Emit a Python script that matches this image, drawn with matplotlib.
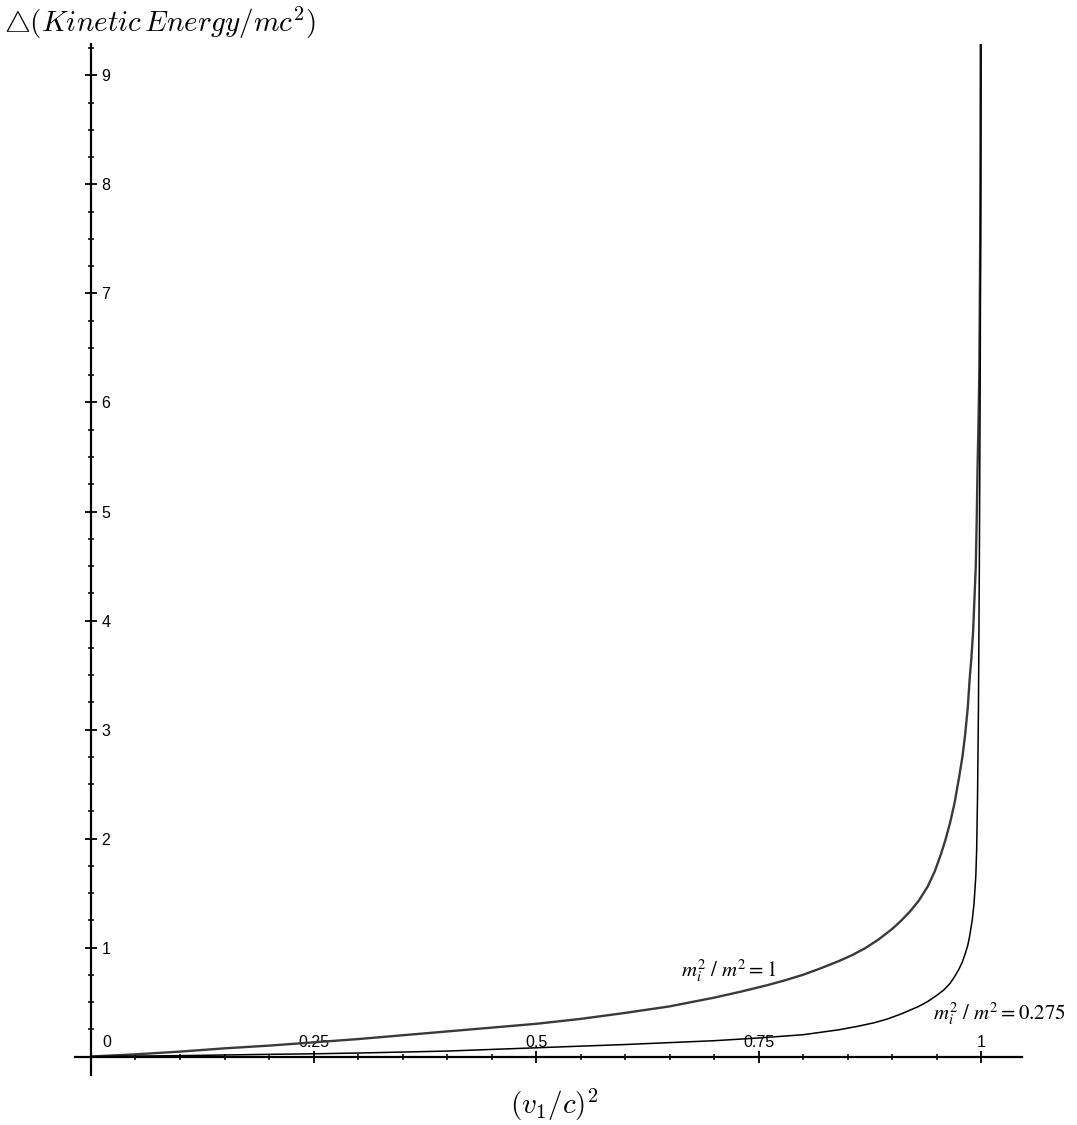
import numpy as np
import matplotlib.pyplot as plt
from matplotlib.ticker import FixedLocator

# curve m_i^2 / m^2 = 1
v1_sq_a = [0, 0.05, 0.10, 0.15, 0.20, 0.25, 0.30, 0.35, 0.40, 0.45, 0.50, 0.55,
           0.60, 0.65, 0.70, 0.73, 0.76, 0.78, 0.80, 0.82, 0.84, 0.855, 0.87,
           0.885, 0.90, 0.91, 0.92, 0.93, 0.94, 0.948, 0.955, 0.96, 0.965, 0.97,
           0.975, 0.979, 0.982, 0.985, 0.987, 0.989, 0.991, 0.9925, 0.994,
           0.995, 0.996, 0.997, 0.998, 0.9985, 0.999, 0.9993, 0.9995]
dke_a = [0, 0.02, 0.045, 0.075, 0.10, 0.13, 0.16, 0.195, 0.23, 0.265, 0.30, 0.345,
         0.40, 0.46, 0.54, 0.595, 0.655, 0.70, 0.75, 0.81, 0.875, 0.93, 0.995,
         1.075, 1.17, 1.245, 1.33, 1.43, 1.56, 1.70, 1.86, 1.99, 2.14, 2.32,
         2.55, 2.75, 2.95, 3.2, 3.45, 3.65, 3.9, 4.2, 4.5,
         4.9, 5.4, 5.8, 6.3, 6.9, 7.5, 8.3, 9.3]

# curve m_i^2 / m^2 = 0.275
v1_sq_b = [0, 0.10, 0.20, 0.25, 0.30, 0.40, 0.50, 0.60, 0.70, 0.75, 0.80, 0.84,
           0.86, 0.88, 0.895, 0.91, 0.92, 0.93, 0.94, 0.95, 0.958, 0.965, 0.97,
           0.975, 0.979, 0.982, 0.985, 0.987, 0.990, 0.992, 0.994, 0.995,
           0.996, 0.997, 0.998, 0.999, 0.9995, 1.0]
dke_b = [0, 0.008, 0.02, 0.025, 0.032, 0.05, 0.08, 0.11, 0.145, 0.17, 0.20, 0.245,
         0.275, 0.31, 0.345, 0.39, 0.425, 0.46, 0.505, 0.56, 0.61, 0.67, 0.73,
         0.80, 0.87, 0.94, 1.02, 1.10, 1.25, 1.40, 1.65, 1.9,
         2.4, 3.2, 4.5, 6.3, 7.7, 9.3]

x_major = [0.25, 0.5, 0.75, 1]
x_labels = ["0.25", "0.5", "0.75", "1"]
y_major = [1, 2, 3, 4, 5, 6, 7, 8, 9]

fig = plt.figure(figsize=(10.77, 11.25), dpi=100)
ax = fig.add_axes([0.0696, 0.0444, 0.8794, 0.9166])

ax.plot(v1_sq_a, dke_a, color="#3a3a3a", lw=1.7, solid_capstyle="butt")
ax.plot(v1_sq_b, dke_b, color="black", lw=1.1, solid_capstyle="butt")

ax.set_xlim(-0.018, 1.046)
ax.set_ylim(-0.17, 9.29)

# axes crossing at the origin
for s in ["left", "right", "bottom", "top"]:
    ax.spines[s].set_position(("data", 0))
ax.spines["right"].set_visible(False)
ax.spines["top"].set_visible(False)
ax.spines["left"].set_linewidth(1.6)
ax.spines["bottom"].set_linewidth(1.6)

ax.xaxis.set_major_locator(FixedLocator(x_major))
ax.set_xticklabels(x_labels)
ax.xaxis.set_minor_locator(FixedLocator(np.arange(0.05, 1.0001, 0.05)))
ax.yaxis.set_major_locator(FixedLocator(y_major))
ax.yaxis.set_minor_locator(FixedLocator(np.arange(0.25, 9.26, 0.25)))

ax.tick_params(axis="x", which="both", bottom=True, top=False,
               labelbottom=False, labeltop=True, direction="inout")
ax.tick_params(axis="y", which="both", left=True, right=False,
               labelleft=False, labelright=True, direction="inout")
ax.tick_params(which="major", length=9, width=1.3, labelsize=11.5)
ax.tick_params(axis="x", which="major", pad=0)
ax.tick_params(axis="y", which="major", pad=3)
ax.tick_params(which="minor", length=5, width=1.1)
for lab in ax.get_xticklabels() + ax.get_yticklabels():
    lab.set_fontfamily("Liberation Sans")

ax.text(0.018, 0.06, "0", fontsize=11.5, family="Liberation Sans",
        ha="center", va="bottom")

plt.rcParams["mathtext.fontset"] = "cm"
fig.text(0.004, 0.980, r"$\bigtriangleup(Kinetic\,Energy/mc^2)$",
         fontsize=21, ha="left", va="center")
fig.text(0.515, 0.018, r"$(v_1/c)^2$", fontsize=21, ha="center", va="center")

ax.text(0.716, 0.79, r"$m_i^2\ /\ m^2 = 1$", fontsize=15,
        math_fontfamily="stix", ha="center", va="center")
ax.text(1.021, 0.39, r"$m_i^2\ /\ m^2 = 0.275$", fontsize=15,
        math_fontfamily="stix", ha="center", va="center")

plt.savefig("out.png", dpi=100)
